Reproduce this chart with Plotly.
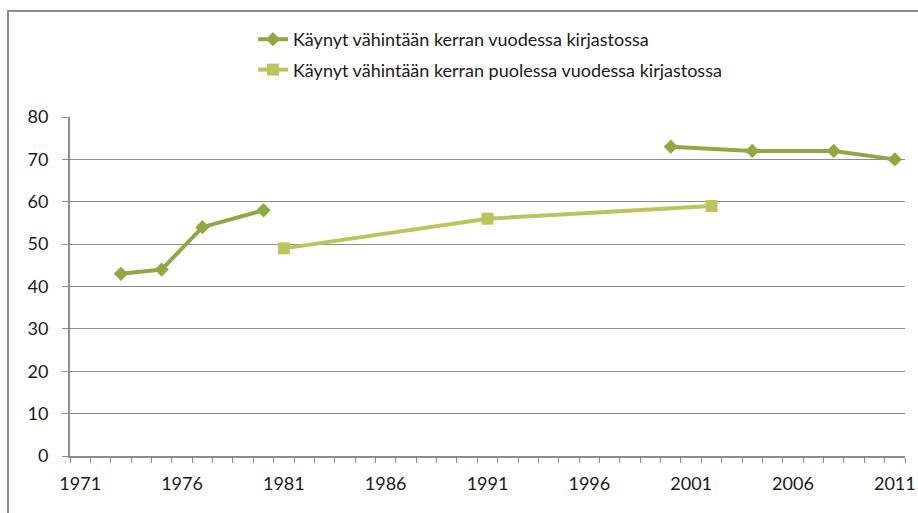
import plotly.graph_objects as go

# ---- data ----
series1_name = "Käynyt vähintään kerran vuodessa kirjastossa"
series1_years = [1973, 1975, 1977, 1980, 2000, 2004, 2008, 2011]
series1_values = [43, 44, 54, 58, 73, 72, 72, 70]

series2_name = "Käynyt vähintään kerran puolessa vuodessa kirjastossa"
series2_years = [1981, 1991, 2002]
series2_values = [49, 56, 59]

x_tick_labels = [1971, 1976, 1981, 1986, 1991, 1996, 2001, 2006, 2011]
y_tick_values = [0, 10, 20, 30, 40, 50, 60, 70, 80]

# break series 1 where survey data is missing (Excel gap)
x1, y1 = [], []
for i, (yr, v) in enumerate(zip(series1_years, series1_values)):
    if i > 0 and yr - series1_years[i - 1] > 10:
        x1.append(None)
        y1.append(None)
    x1.append(yr)
    y1.append(v)

DARK = "#8EA944"
LIGHT = "#BDC45E"
FONT = "Lato"
TXT = "#1A1A1A"
AX = "#8C8C8C"
FS = 18

fig = go.Figure()
fig.add_trace(go.Scatter(
    x=x1, y=y1, name=series1_name, mode="lines+markers",
    line=dict(color=DARK, width=4),
    marker=dict(symbol="diamond", size=11, color=DARK),
    connectgaps=False, legendgroup="a",
))
fig.add_trace(go.Scatter(
    x=series2_years, y=series2_values, name=series2_name, mode="lines+markers",
    line=dict(color=LIGHT, width=4),
    marker=dict(symbol="square", size=12, color=LIGHT),
    legendgroup="b",
))

W, H = 918, 513
L, R, T, B = 70, 13, 117, 57
pw, ph = W - L - R, H - T - B

def px_to_paper_x(px):
    return (px - L) / pw

def px_to_paper_y(py):
    return (H - B - py) / ph

fig.update_layout(
    width=W, height=H,
    margin=dict(l=L, r=R, t=T, b=B, autoexpand=False),
    paper_bgcolor="white", plot_bgcolor="white",
    font=dict(family=FONT, size=FS, color=TXT),
    showlegend=True,
    legend=dict(
        x=px_to_paper_x(253), y=px_to_paper_y(21), xanchor="left", yanchor="top",
        font=dict(family=FONT, size=FS, color=TXT),
        bgcolor="rgba(0,0,0,0)", tracegroupgap=4, traceorder="grouped",
    ),
    xaxis=dict(
        range=[1970.5, 2011.5],
        tickmode="array", tickvals=x_tick_labels,
        ticktext=[str(v) for v in x_tick_labels],
        ticks="", showgrid=False, zeroline=False,
        showline=True, linecolor=AX, linewidth=2,
        tickfont=dict(family=FONT, size=FS, color=TXT),
        ticklabelstandoff=10,
        minor=dict(tick0=0.5, dtick=1, ticks="outside", ticklen=5,
                   tickcolor=AX, tickwidth=1, showgrid=False),
        fixedrange=True,
    ),
    yaxis=dict(
        range=[0, 80],
        tickmode="array", tickvals=y_tick_values,
        ticks="outside", ticklen=6, tickcolor=AX, tickwidth=1,
        showgrid=True, gridcolor="#8C8C8C", gridwidth=1,
        zeroline=False, showline=True, linecolor=AX, linewidth=2,
        tickfont=dict(family=FONT, size=FS, color=TXT),
        ticklabelstandoff=10,
        fixedrange=True,
    ),
    shapes=[dict(
        type="rect", xref="paper", yref="paper", layer="below",
        x0=px_to_paper_x(8), x1=px_to_paper_x(925),
        y0=px_to_paper_y(520), y1=px_to_paper_y(11),
        line=dict(color="#8C8C8C", width=2), fillcolor="rgba(0,0,0,0)",
    )],
)

fig.write_html("out.html", config={"displayModeBar": False})

# remove the default browser body margin so the figure sits at the page origin
with open("out.html", "r", encoding="utf-8") as f:
    html = f.read()
html = html.replace("<body>", '<body style="margin:0;padding:0;overflow:hidden">', 1)
with open("out.html", "w", encoding="utf-8") as f:
    f.write(html)
